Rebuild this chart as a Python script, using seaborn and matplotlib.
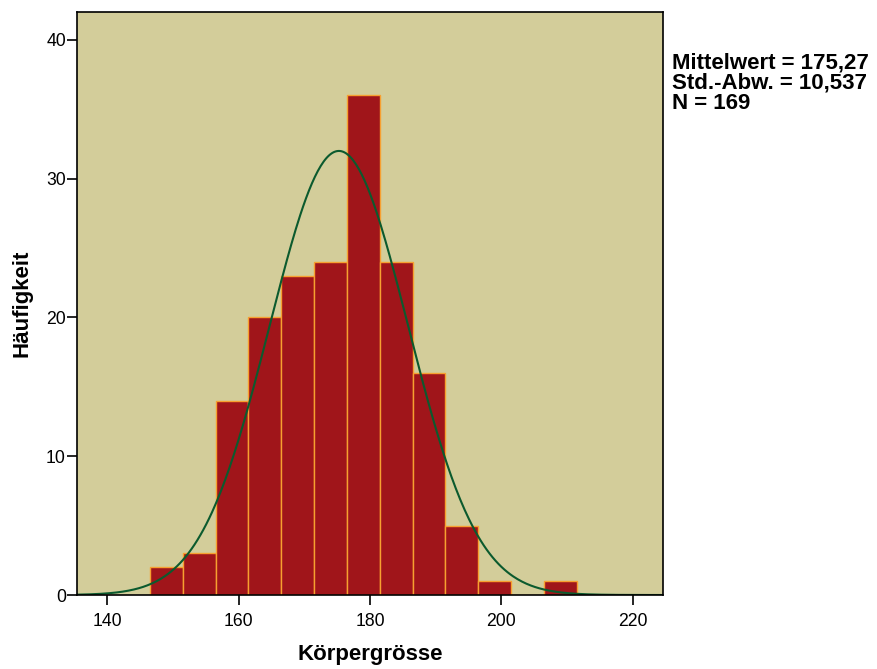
import matplotlib.pyplot as plt
import numpy as np
import pandas as pd
import seaborn as sns

# Histogram counts (bin width 5)
bin_edges = [146.5, 151.5, 156.5, 161.5, 166.5, 171.5, 176.5, 181.5,
             186.5, 191.5, 196.5, 201.5, 206.5, 211.5]
counts = [2, 3, 14, 20, 23, 24, 36, 24, 16, 5, 1, 0, 1]
mean = 175.27
sd = 10.537
n = 169
x_ticks = [140, 160, 180, 200, 220]
y_ticks = [0, 10, 20, 30, 40]

if __name__ == "__main__":

    sns.set_style("ticks")
    plt.rcParams["font.family"] = ["Liberation Sans", "DejaVu Sans"]
    plt.rcParams["text.color"] = "black"
    plt.rcParams["axes.labelcolor"] = "black"

    centers = [(a + b) / 2 for a, b in zip(bin_edges[:-1], bin_edges[1:])]
    df = pd.DataFrame({"height": centers, "count": counts})

    fig = plt.figure(figsize=(8.78, 6.69), dpi=100)
    ax = fig.add_axes([0.0877, 0.1106, 0.6673, 0.8714])
    ax.set_facecolor("#D3CD9A")

    sns.histplot(data=df, x="height", weights="count", bins=bin_edges, ax=ax,
                 color="#A0151A", edgecolor="#F7A030", linewidth=1.0, alpha=1)

    # Normal curve scaled to counts
    width = bin_edges[1] - bin_edges[0]
    xs = np.linspace(135.4, 224.6, 400)
    ys = n * width / (sd * np.sqrt(2 * np.pi)) * np.exp(-0.5 * ((xs - mean) / sd) ** 2)
    sns.lineplot(x=xs, y=ys, ax=ax, color="#0B5A2E", linewidth=1.5)

    ax.set_xlim(135.4, 224.6)
    ax.set_ylim(0, 42)
    ax.set_xticks(x_ticks)
    ax.set_yticks(y_ticks)
    ax.tick_params(direction="out", length=7, width=1.2, labelsize=12.7,
                   colors="black")
    ax.tick_params(axis="x", pad=6)
    ax.tick_params(axis="y", pad=1)

    for spine in ax.spines.values():
        spine.set_visible(True)
        spine.set_color("black")
        spine.set_linewidth(1.2)

    ax.set_xlabel("Körpergrösse", fontsize=16, fontweight="bold", labelpad=10)
    ax.set_ylabel("Häufigkeit", fontsize=16, fontweight="bold", labelpad=10)

    fig.text(0.765, 0.922,
             f"Mittelwert = 175,27\nStd.-Abw. = 10,537\nN = {n}",
             fontsize=16, fontweight="bold", va="top", ha="left",
             linespacing=0.97)

    fig.savefig("out.png", dpi=100)
